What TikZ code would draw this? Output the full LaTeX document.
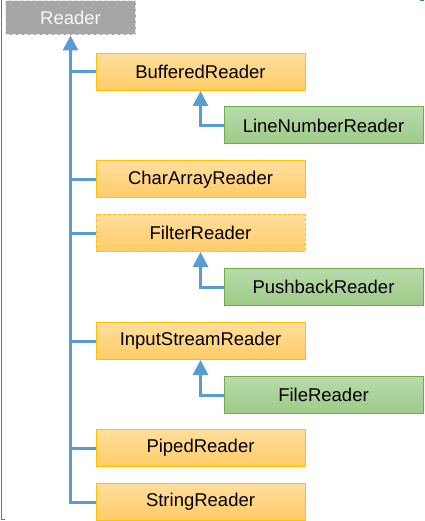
\documentclass[tikz,border=0pt]{standalone}
\usepackage{fontspec}
\setmainfont{Liberation Sans}
\usetikzlibrary{arrows.meta}
\definecolor{conncol}{HTML}{5B9BD5}
\definecolor{orborder}{HTML}{FFC000}
\definecolor{ortop}{HTML}{FFDE9E}
\definecolor{orbot}{HTML}{FFCC66}
\definecolor{grborder}{HTML}{70AD47}
\definecolor{grtop}{HTML}{B8DAAA}
\definecolor{grbot}{HTML}{9ECB88}
\definecolor{rootfill}{HTML}{A6A6A6}
\definecolor{rootborder}{HTML}{E4E4E4}
\definecolor{framecol}{HTML}{4472C4}
\tikzset{
  base/.style={rectangle, inner sep=0pt, line width=1pt,
    font=\fontsize{18.5}{21}\selectfont, text=black},
  orangebox/.style={base, draw=orborder, top color=ortop, bottom color=orbot,
    minimum width=209pt, minimum height=37pt},
  orangedash/.style={orangebox, dashed, dash pattern=on 3pt off 2pt},
  greenbox/.style={base, draw=grborder, top color=grtop, bottom color=grbot,
    minimum width=199pt, minimum height=37pt},
  rootbox/.style={base, draw=rootborder, fill=rootfill, text=white!95!gray,
    dash pattern=on 4pt off 2pt, minimum width=130pt, minimum height=34pt},
  conn/.style={draw=conncol, line width=3pt},
  tip/.style={-{Triangle[width=15pt,length=15pt]}},
}
\begin{document}
\begin{tikzpicture}[x=1pt,y=-1pt]
\useasboundingbox (0,0) rectangle (424,521);
% frame line on the left
\draw[framecol, line width=1pt] (1.5,0) -- (1.5,519) -- (5,519);
\draw[framecol, line width=1pt] (420,0.5) -- (424,0.5);

\node[rootbox] (reader) at (70.5,18) {Reader};

\node[orangebox] (buffered) at (200.5,72) {BufferedReader};
\node[greenbox] (linenum) at (323.5,125.5) {LineNumberReader};
\node[orangebox] (chararray) at (200.5,179.5) {CharArrayReader};
\node[orangedash] (filter) at (200.5,233) {FilterReader};
\node[greenbox] (pushback) at (323.5,287) {PushbackReader};
\node[orangebox] (input) at (200.5,341) {InputStreamReader};
\node[greenbox] (file) at (323.5,395) {FileReader};
\node[orangebox] (piped) at (200.5,448) {PipedReader};
\node[orangebox] (string) at (200.5,502) {StringReader};

% trunk
\draw[conn, tip] (string.west) -| (reader.south);
\foreach \n in {buffered,chararray,filter,input,piped}
  \draw[conn] (\n.west) -- (\n.west -| reader.south);

% sub-class arrows
\draw[conn, tip] (linenum.west) -| (buffered.south);
\draw[conn, tip] (pushback.west) -| (filter.south);
\draw[conn, tip] (file.west) -| (input.south);
\end{tikzpicture}
\end{document}
